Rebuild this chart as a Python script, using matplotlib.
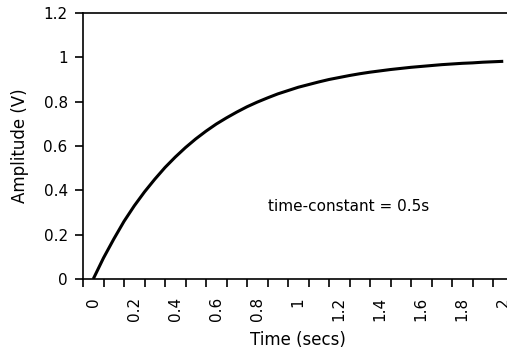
import matplotlib
matplotlib.use("Agg")
import matplotlib.pyplot as plt

# time in secs and the amplitude
time_s = [0.0, 0.05, 0.1, 0.15, 0.2, 0.25, 0.3, 0.35, 0.4, 0.45, 0.5,
          0.55, 0.6, 0.65, 0.7, 0.75, 0.8, 0.85, 0.9, 0.95, 1.0,
          1.05, 1.1, 1.15, 1.2, 1.25, 1.3, 1.35, 1.4, 1.45, 1.5,
          1.55, 1.6, 1.65, 1.7, 1.75, 1.8, 1.85, 1.9, 1.95, 2.0]
amplitude = [0.0, 0.095, 0.18, 0.26, 0.33, 0.393, 0.45, 0.503, 0.55, 0.593, 0.632,
             0.667, 0.699, 0.727, 0.753, 0.777, 0.798, 0.817, 0.835, 0.85, 0.865,
             0.877, 0.889, 0.90, 0.909, 0.918, 0.926, 0.933, 0.939, 0.945, 0.95,
             0.955, 0.959, 0.963, 0.967, 0.97, 0.973, 0.975, 0.978, 0.98, 0.982]

x_labels = ["0", "0.2", "0.4", "0.6", "0.8", "1", "1.2", "1.4", "1.6", "1.8", "2"]
y_ticks = [0, 0.2, 0.4, 0.6, 0.8, 1.0, 1.2]
y_labels = ["0", "0.2", "0.4", "0.6", "0.8", "1", "1.2"]

plt.rcParams['font.family'] = ['DejaVu Sans']

fig = plt.figure(figsize=(5.07, 3.52), dpi=100)
# axes runs past the right edge, the reference is cropped there
ax = fig.add_axes([83/507, 73/352, 430.5/507, 266/352])

ax.plot(time_s, amplitude, color='black', linewidth=2.2, solid_capstyle='butt')

ax.set_xlim(-0.05, 2.05)
ax.set_ylim(0, 1.2)

# category style axis: marks between categories, labels every other one
bounds = [-0.05 + 0.1 * i for i in range(22)]
ax.set_xticks(bounds)
ax.set_xticklabels([])
label_pos = [0.2 * i for i in range(len(x_labels))]
ax.set_xticks(label_pos, minor=True)
ax.set_xticklabels(x_labels, minor=True, rotation=90, fontsize=11)
ax.tick_params(axis='x', which='major', direction='out', length=6, width=1.2)
ax.tick_params(axis='x', which='minor', length=0, pad=13)

ax.set_yticks(y_ticks)
ax.set_yticklabels(y_labels, fontsize=11)
ax.tick_params(axis='y', direction='out', length=6, width=1.2, pad=5)

for s in ax.spines.values():
    s.set_linewidth(1.2)

ax.set_xlabel("Time (secs)", fontsize=12, va='center')
ax.xaxis.set_label_coords(0.5, -61/266)
ax.set_ylabel("Amplitude (V)", fontsize=12, va='center')
ax.yaxis.set_label_coords(-63/430.5, 0.5)

ax.text(0.85, 0.325, "time-constant = 0.5s", fontsize=11, ha='left', va='center')

fig.savefig("out.png", dpi=100)
